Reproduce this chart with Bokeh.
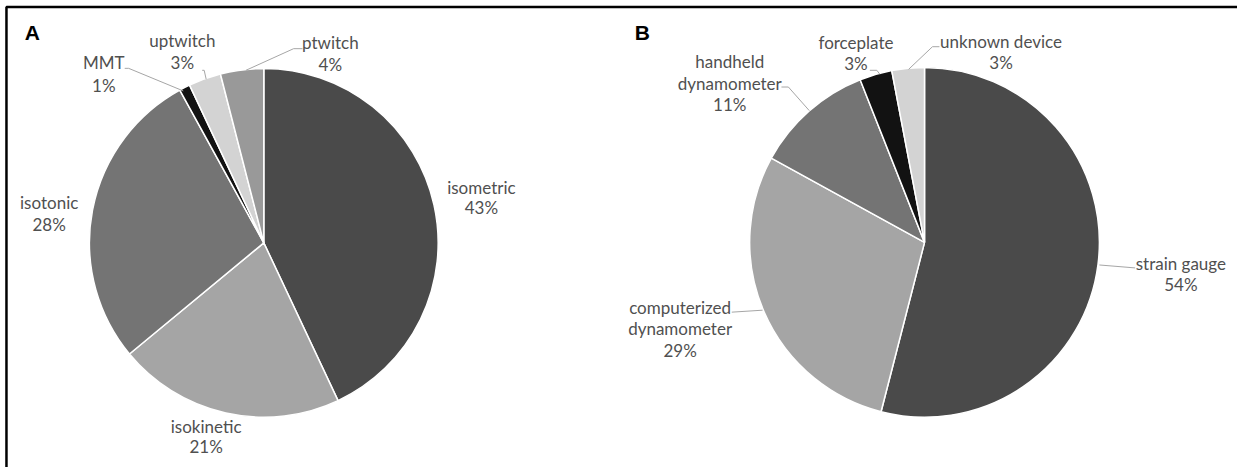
import math
from bokeh.plotting import figure
from bokeh.models import Range1d, ColumnDataSource
from bokeh.core.properties import value
from bokeh.embed import file_html
from bokeh.resources import INLINE

# ---- data ----
a_labels = ["isometric", "isokinetic", "isotonic", "MMT", "uptwitch", "ptwitch"]
a_values = [43, 21, 28, 1, 3, 4]
b_labels = ["strain gauge", "computerized\ndynamometer", "handheld\ndynamometer", "forceplate", "unknown device"]
b_values = [54, 29, 11, 3, 3]

# ---- styles / layout ----
a_colors = ["#4a4a4a", "#a5a5a5", "#747474", "#121212", "#d3d3d3", "#999999"]
b_colors = ["#4a4a4a", "#a5a5a5", "#747474", "#121212", "#d3d3d3"]
W, H = 1245, 475
LABEL_FONT = "Lato"
LABEL_SIZE = "17px"
TEXT_COLOR = "#505050"
LEADER_COLOR = "#a6a6a6"

def Y(yimg):
    return H - yimg

p = figure(width=1237, height=467, output_backend="svg", toolbar_location=None,
           x_range=Range1d(0, W), y_range=Range1d(0, H), min_border=0)
p.axis.visible = False
p.grid.visible = False
p.outline_line_color = None
p.background_fill_color = "white"
p.border_fill_color = "white"

# frame (top and left lines)
p.line([6, 6, W], [Y(H), Y(6.5), Y(6.5)], line_color="black", line_width=2.5)

def pie(cx, cy, r, values, colors):
    total = float(sum(values))
    starts, ends = [], []
    cum = 0.0
    for v in values:
        s = cum / total
        cum += v
        e = cum / total
        # clockwise from top
        starts.append(math.pi / 2 - e * 2 * math.pi)
        ends.append(math.pi / 2 - s * 2 * math.pi)
    src = ColumnDataSource(dict(x=[cx] * len(values), y=[Y(cy)] * len(values),
                                s=starts, e=ends, c=colors))
    p.wedge(x="x", y="y", radius=r, start_angle="s", end_angle="e",
            fill_color="c", line_color="white", line_width=1.5, source=src)

pie(265, 246.5, 175.5, a_values, a_colors)
pie(930, 246, 176, b_values, b_colors)

# labels: (x center, y of first line, line spacing)
a_pos = [(484, 190, 21), (207, 433, 21), (49, 205, 23), (104, 63, 23), (183, 41, 22), (332, 43, 22)]
b_pos = [(1188, 267, 22), (684, 312, 22), (734, 62, 22), (861, 43, 21), (1007, 42, 21)]

xs, ys, ts = [], [], []
def add_labels(labels, values, pos):
    for lab, v, (x, y0, dy) in zip(labels, values, pos):
        lines = lab.split("\n") + [f"{v}%"]
        for i, t in enumerate(lines):
            xs.append(x)
            ys.append(Y(y0 + i * dy))
            ts.append(t)

add_labels(a_labels, a_values, a_pos)
add_labels(b_labels, b_values, b_pos)
p.text(x=xs, y=ys, text=ts, text_align="center", text_baseline="middle",
       text_font=value(LABEL_FONT), text_font_size=LABEL_SIZE, text_color=TEXT_COLOR)

# leader lines
leaders = [
    [(125, 69), (129, 69), (184, 92)],
    [(203, 71), (205, 71), (207, 80)],
    [(304, 49), (295, 49), (247, 71)],
    [(1106, 269), (1142, 272)],
    [(736, 317), (767, 315)],
    [(786, 88), (793, 88), (814, 112)],
    [(875, 71), (882, 71), (885, 75)],
    [(945, 47), (938, 47), (914, 70)],
]
p.multi_line(xs=[[pt[0] for pt in l] for l in leaders],
             ys=[[Y(pt[1]) for pt in l] for l in leaders],
             line_color=LEADER_COLOR, line_width=1)

# panel letters
p.text(x=[32, 646], y=[Y(33), Y(33)], text=["A", "B"], text_align="center",
       text_baseline="middle", text_font=value("Liberation Sans"),
       text_font_size="21px", text_font_style="bold", text_color="black")

open("out.html", "w").write(file_html(p, INLINE))
